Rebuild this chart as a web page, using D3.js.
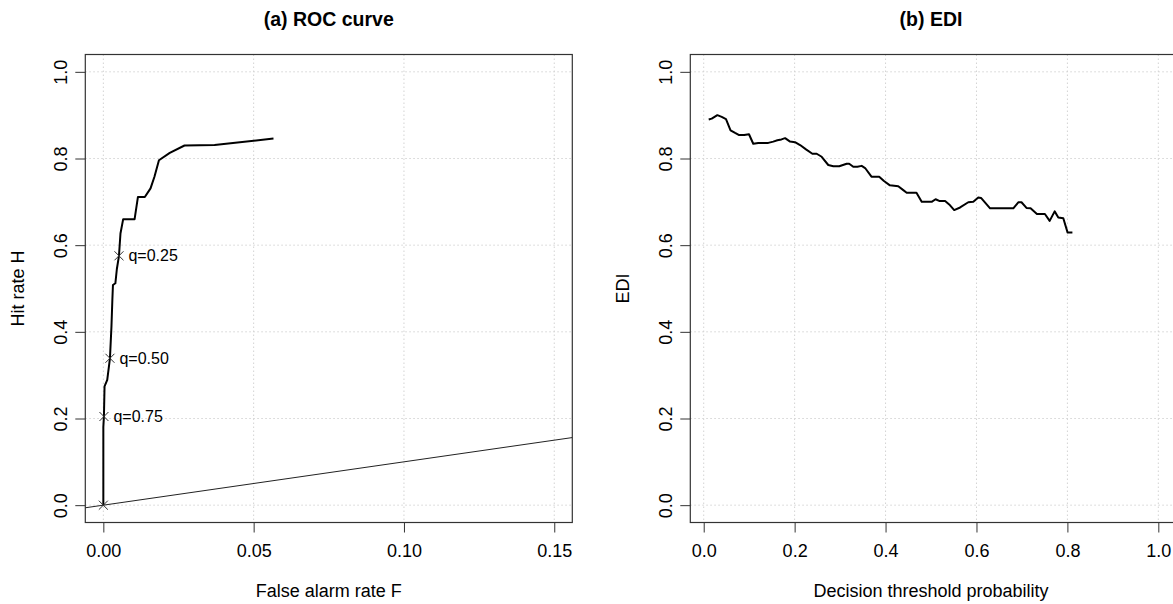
<!DOCTYPE html>
<html>
<head>
<meta charset="utf-8">
<script src="https://cdn.jsdelivr.net/npm/d3@7"></script>
<style>
  html, body { margin: 0; padding: 0; background: #fff; overflow: hidden; }
  svg { display: block; font-family: "Liberation Sans", Arial, sans-serif; }
</style>
</head>
<body>
<svg id="chart" width="1173" height="604"></svg>
<script>
// ROC curve: false alarm rate F and hit rate H
const rocF = [0, 0, 0.0002, 0.0004, 0.0013, 0.0022, 0.0027, 0.0030, 0.0032, 0.0040, 0.0045, 0.0052, 0.0057, 0.0066, 0.0104, 0.0115, 0.0138, 0.0157, 0.0170, 0.0185, 0.0221, 0.0270, 0.0370, 0.0566];
const rocH = [0, 0.18, 0.205, 0.274, 0.289, 0.339, 0.412, 0.4735, 0.508, 0.512, 0.545, 0.5755, 0.627, 0.660, 0.660, 0.711, 0.711, 0.731, 0.758, 0.796, 0.813, 0.830, 0.831, 0.846];

// Marked quantile thresholds on the ROC curve
const markF = [0, 0.0002, 0.0022, 0.0052];
const markH = [0, 0.2046, 0.339, 0.5755];
const markLabels = ["", "q=0.75", "q=0.50", "q=0.25"];

// EDI against decision threshold probability
const ediT = [0.011, 0.0176, 0.030, 0.0396, 0.049, 0.059, 0.069, 0.078, 0.089, 0.0996, 0.109, 0.120, 0.142, 0.153, 0.162, 0.171, 0.179, 0.190, 0.2008, 0.212, 0.225, 0.239, 0.2485, 0.2595, 0.274, 0.285, 0.298, 0.3145, 0.320, 0.329, 0.338, 0.3475, 0.355, 0.369, 0.386, 0.3965, 0.4096, 0.428, 0.439, 0.4465, 0.468, 0.4795, 0.5014, 0.510, 0.518, 0.531, 0.540, 0.551, 0.564, 0.582, 0.593, 0.604, 0.610, 0.630, 0.681, 0.692, 0.699, 0.710, 0.719, 0.733, 0.7505, 0.761, 0.772, 0.780, 0.791, 0.8005, 0.811];
const ediV = [0.890, 0.892, 0.900, 0.896, 0.891, 0.865, 0.859, 0.854, 0.854, 0.856, 0.834, 0.836, 0.836, 0.839, 0.842, 0.844, 0.847, 0.839, 0.8376, 0.831, 0.821, 0.811, 0.811, 0.804, 0.785, 0.782, 0.782, 0.788, 0.788, 0.781, 0.781, 0.783, 0.778, 0.758, 0.758, 0.748, 0.738, 0.736, 0.727, 0.721, 0.721, 0.700, 0.700, 0.706, 0.702, 0.702, 0.694, 0.681, 0.687, 0.699, 0.700, 0.710, 0.709, 0.685, 0.685, 0.699, 0.699, 0.686, 0.685, 0.672, 0.672, 0.656, 0.678, 0.664, 0.662, 0.629, 0.629];

// Tick values and labels
const rocXTicks = [0, 0.05, 0.10, 0.15];
const rocXLabels = ["0.00", "0.05", "0.10", "0.15"];
const ediXTicks = [0, 0.2, 0.4, 0.6, 0.8, 1.0];
const ediXLabels = ["0.0", "0.2", "0.4", "0.6", "0.8", "1.0"];
const yTicks = [0, 0.2, 0.4, 0.6, 0.8, 1.0];
const yLabels = ["0.0", "0.2", "0.4", "0.6", "0.8", "1.0"];

const svg = d3.select("#chart");
const plotTop = 54.5, plotBottom = 522.5;

function panel(opts) {
  const { id, left, right, xDomain, xTicks, xLabels, title, xTitle, yTitle } = opts;
  const x = d3.scaleLinear().domain(xDomain).range([left, right]);
  const y = d3.scaleLinear().domain([-0.04, 1.04]).range([plotBottom, plotTop]);
  const g = svg.append("g");

  g.append("clipPath").attr("id", id)
    .append("rect").attr("x", left).attr("y", plotTop)
    .attr("width", right - left).attr("height", plotBottom - plotTop);

  // dotted grid
  const grid = g.append("g").attr("stroke", "#d3d3d3").attr("stroke-width", 1)
    .attr("stroke-dasharray", "1.5,2.5").attr("fill", "none");
  xTicks.forEach(v => grid.append("line")
    .attr("x1", x(v)).attr("x2", x(v)).attr("y1", plotTop).attr("y2", plotBottom));
  yTicks.forEach(v => grid.append("line")
    .attr("x1", left).attr("x2", right).attr("y1", y(v)).attr("y2", y(v)));

  // bottom axis
  const ax = g.append("g").attr("transform", `translate(0,${plotBottom})`)
    .call(d3.axisBottom(x).tickValues(xTicks)
      .tickFormat((d, i) => xLabels[i]).tickSize(10).tickPadding(11.7));
  ax.select(".domain").remove();
  ax.selectAll(".tick line").attr("stroke", "#333");
  ax.selectAll(".tick text").attr("font-size", 18).attr("fill", "#000")
    .attr("font-family", "Liberation Sans, Arial, sans-serif");

  // left axis with labels parallel to the axis
  const ay = g.append("g").attr("transform", `translate(${left},0)`)
    .call(d3.axisLeft(y).tickValues(yTicks)
      .tickFormat((d, i) => yLabels[i]).tickSize(10));
  ay.select(".domain").remove();
  ay.selectAll(".tick line").attr("stroke", "#333");
  ay.selectAll(".tick text")
    .attr("x", null).attr("dy", null)
    .attr("text-anchor", "middle")
    .attr("transform", "translate(-18.3,0) rotate(-90)")
    .attr("font-size", 18).attr("fill", "#000")
    .attr("font-family", "Liberation Sans, Arial, sans-serif");

  // plot box
  g.append("rect").attr("x", left).attr("y", plotTop)
    .attr("width", right - left).attr("height", plotBottom - plotTop)
    .attr("fill", "none").attr("stroke", "#333").attr("stroke-width", 1.2);

  // titles
  const mid = opts.titleX !== undefined ? opts.titleX : (left + right) / 2;
  g.append("text").attr("x", mid).attr("y", 26)
    .attr("text-anchor", "middle").attr("font-size", 19.5).attr("font-weight", "bold")
    .text(title);
  g.append("text").attr("x", mid).attr("y", 596.5)
    .attr("text-anchor", "middle").attr("font-size", 18).text(xTitle);
  g.append("text").attr("text-anchor", "middle").attr("font-size", 18)
    .attr("transform", `translate(${left - 61.3},${(plotTop + plotBottom) / 2}) rotate(-90)`)
    .text(yTitle);

  return { g, x, y };
}

// (a) ROC curve
const a = panel({
  id: "clipA", left: 85.3, right: 572.3, xDomain: [-0.006, 0.156],
  xTicks: rocXTicks, xLabels: rocXLabels,
  title: "(a) ROC curve", xTitle: "False alarm rate F", yTitle: "Hit rate H"
});
const plotA = a.g.append("g").attr("clip-path", "url(#clipA)");
// no-skill diagonal H = F
plotA.append("line")
  .attr("x1", a.x(-0.006)).attr("y1", a.y(-0.006))
  .attr("x2", a.x(0.156)).attr("y2", a.y(0.156))
  .attr("stroke", "#222").attr("stroke-width", 1);
plotA.append("path")
  .datum(rocF.map((f, i) => [f, rocH[i]]))
  .attr("d", d3.line().x(d => a.x(d[0])).y(d => a.y(d[1])))
  .attr("fill", "none").attr("stroke", "#000").attr("stroke-width", 2)
  .attr("stroke-linejoin", "round");
// threshold markers (cross symbols) and labels
markF.forEach((f, i) => {
  const cx = a.x(f), cy = a.y(markH[i]), s = 4.5;
  plotA.append("path")
    .attr("d", `M${cx - s},${cy - s}L${cx + s},${cy + s}M${cx - s},${cy + s}L${cx + s},${cy - s}`)
    .attr("stroke", "#333").attr("stroke-width", 1);
  if (markLabels[i]) {
    a.g.append("text").attr("x", cx + 9.5).attr("y", cy).attr("dy", "0.35em")
      .attr("font-size", 16).text(markLabels[i]);
  }
});

// (b) EDI — plot region runs slightly past the right edge of the page
const b = panel({
  id: "clipB", left: 690.3, right: 1176, xDomain: [-0.0295, 1.0389],
  xTicks: ediXTicks, xLabels: ediXLabels, titleX: 931,
  title: "(b) EDI", xTitle: "Decision threshold probability", yTitle: "EDI"
});
b.g.append("g").attr("clip-path", "url(#clipB)").append("path")
  .datum(ediT.map((t, i) => [t, ediV[i]]))
  .attr("d", d3.line().x(d => b.x(d[0])).y(d => b.y(d[1])))
  .attr("fill", "none").attr("stroke", "#000").attr("stroke-width", 2)
  .attr("stroke-linejoin", "round");
</script>
</body>
</html>
